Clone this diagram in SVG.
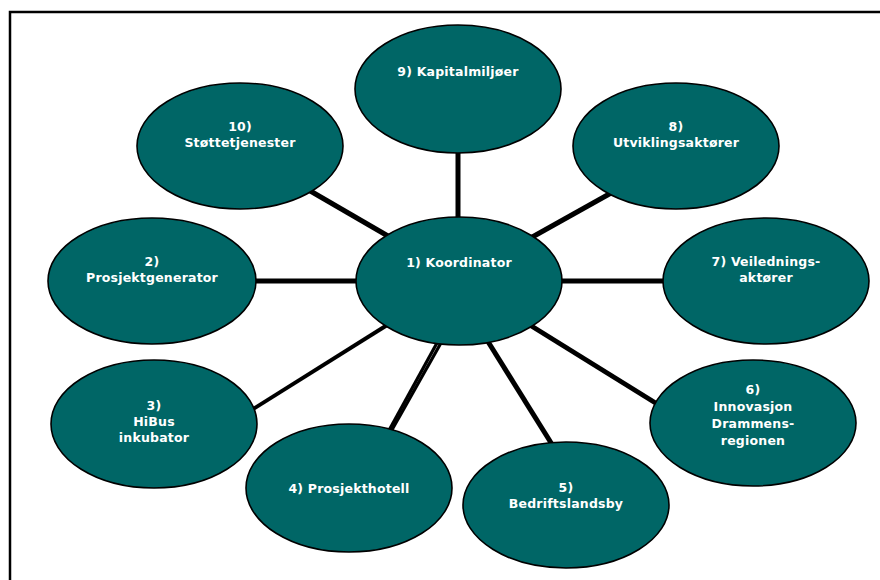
<svg xmlns="http://www.w3.org/2000/svg" width="880" height="580" viewBox="0 0 880 580">
<style>
.n{fill:#006666;stroke:#000;stroke-width:1.6}
.t{fill:#fff;font-family:"DejaVu Sans",Verdana,sans-serif;font-weight:bold;font-size:12.5px;letter-spacing:0.2px;text-anchor:middle}
.c{stroke:#000;stroke-width:5;fill:none}
</style>
<rect x="0" y="0" width="880" height="580" fill="#fff"/>
<path d="M10,582 V12 H882" fill="none" stroke="#000" stroke-width="2.5"/>
<g id="connectors">
<line class="c" x1="300" y1="185" x2="400" y2="243"/>
<line class="c" x1="458" y1="150" x2="458" y2="220"/>
<line class="c" x1="620" y1="188" x2="518" y2="245"/>
<line class="c" x1="250" y1="281" x2="360" y2="281"/>
<line class="c" x1="558" y1="281" x2="668" y2="281"/>
<line class="c" style="stroke-width:4" x1="250" y1="411" x2="392" y2="322"/>
<line class="c" style="stroke-width:3.2" x1="437.5" y1="342" x2="381.5" y2="444"/>
<line class="c" style="stroke-width:3.2" x1="441.5" y1="342" x2="384" y2="444"/>
<line class="c" x1="487" y1="340" x2="553" y2="446"/>
<line class="c" x1="525" y1="322" x2="662" y2="407"/>
</g>
<g id="n1"><ellipse class="n" cx="459" cy="281" rx="103" ry="64"/><text class="t" x="459" y="267">1) Koordinator</text></g>
<g id="n9"><ellipse class="n" cx="458" cy="89" rx="103" ry="64"/><text class="t" x="458" y="76">9) Kapitalmiljøer</text></g>
<g id="n10"><ellipse class="n" cx="240" cy="146" rx="103" ry="63"/><text class="t" x="240" y="131">10)</text><text class="t" x="240" y="147">Støttetjenester</text></g>
<g id="n8"><ellipse class="n" cx="676" cy="146" rx="103" ry="63"/><text class="t" x="676" y="131">8)</text><text class="t" x="676" y="147">Utviklingsaktører</text></g>
<g id="n2"><ellipse class="n" cx="152" cy="281" rx="104" ry="63"/><text class="t" x="152" y="266">2)</text><text class="t" x="152" y="282">Prosjektgenerator</text></g>
<g id="n7"><ellipse class="n" cx="766" cy="281" rx="103" ry="63"/><text class="t" x="766" y="266">7) Veilednings-</text><text class="t" x="766" y="282">aktører</text></g>
<g id="n3"><ellipse class="n" cx="154" cy="424" rx="103" ry="64"/><text class="t" x="154" y="410">3)</text><text class="t" x="154" y="426">HiBus</text><text class="t" x="154" y="442">inkubator</text></g>
<g id="n4"><ellipse class="n" cx="349" cy="488" rx="103" ry="64"/><text class="t" x="349" y="493">4) Prosjekthotell</text></g>
<g id="n5"><ellipse class="n" cx="566" cy="505" rx="103" ry="63"/><text class="t" x="566" y="492">5)</text><text class="t" x="566" y="508">Bedriftslandsby</text></g>
<g id="n6"><ellipse class="n" cx="753" cy="423" rx="103" ry="63"/><text class="t" x="753" y="394">6)</text><text class="t" x="753" y="411">Innovasjon</text><text class="t" x="753" y="428">Drammens-</text><text class="t" x="753" y="445">regionen</text></g>
</svg>
